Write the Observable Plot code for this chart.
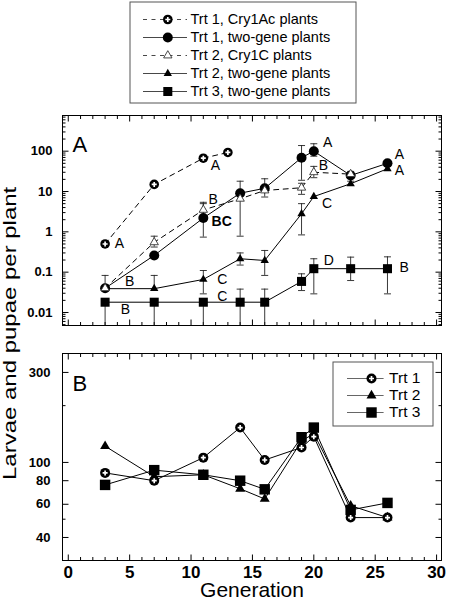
<!DOCTYPE html>
<html><head><meta charset="utf-8">
<script src="https://cdn.jsdelivr.net/npm/d3@7"></script>
<script src="https://cdn.jsdelivr.net/npm/@observablehq/plot@0.6"></script>
<style>
html,body{margin:0;padding:0;background:#fff;}
#root{position:relative;width:450px;height:601px;overflow:hidden;font-family:"Liberation Sans",Arial,Helvetica,sans-serif;}
.layer{position:absolute;}
.layer svg{display:block;max-width:none!important;background:transparent!important;}
#ytitle{position:absolute;white-space:nowrap;font-size:18px;color:#000;line-height:1.15;}
</style></head>
<body><div id="root"></div>
<script>
// ---------- Panel A data ----------
const gensCry1Ac = [3, 7, 11, 13];
const trt1Cry1Ac = [0.5, 15, 67, 93];

const gensTwoGene = [3, 7, 11, 14, 16, 19, 20, 23, 26];
const trt1TwoGene   = [0.04, 0.26, 2.2, 9.1, 12, 69, 100, 25, 50];
const trt1TwoGeneLo = [null, null, 0.74, 0.78, 7.3, 19, 75, 18, null];
const trt1TwoGeneHi = [null, null, 5.4, 18, 20.7, 138, 153, 31.5, null];

const gensCry1C = [3, 7, 11, 14, 16, 19, 20, 23];
const trt2Cry1C   = [0.04, 0.55, 3.5, 6.6, 10.6, 12.4, 30, 27];
const trt2Cry1CLo = [null, 0.42, 2.4, null, null, 8.5, 22, null];
const trt2Cry1CHi = [null, 0.78, 5, null, null, 16, 42, null];

const trt2TwoGene   = [0.039, 0.039, 0.066, 0.215, 0.195, 2.8, 7.5, 15.6, 36.7];
const trt2TwoGeneLo = [null, null, 0.029, 0.15, 0.083, 0.84, null, null, null];
const trt2TwoGeneHi = [0.083, 0.083, 0.11, 0.3, 0.345, 5, null, null, null];

const trt3TwoGene   = [0.018, 0.018, 0.018, 0.018, 0.018, 0.059, 0.122, 0.122, 0.122];
const trt3TwoGeneLo = [0.001, 0.001, 0.001, 0.001, 0.001, 0.035, 0.029, 0.062, 0.029];
const trt3TwoGeneHi = [null, null, null, 0.038, 0.038, 0.091, 0.215, 0.236, 0.24];

// letters of significance (panel A), in data units
const lettersA = [
  {gen: 3.78, value: 0.5, text: "A"},
  {gen: 11.6, value: 44, text: "A"},
  {gen: 11.42, value: 6.4, text: "B"},
  {gen: 4.62, value: 0.059, text: "B"},
  {gen: 12.13, value: 0.064, text: "C"},
  {gen: 12.13, value: 0.0255, text: "C"},
  {gen: 4.27, value: 0.012, text: "B"},
  {gen: 20.75, value: 168, text: "A"},
  {gen: 20.4, value: 43, text: "B"},
  {gen: 20.67, value: 4.9, text: "C"},
  {gen: 20.8, value: 0.19, text: "D"},
  {gen: 26.6, value: 85, text: "A"},
  {gen: 26.6, value: 33, text: "A"},
  {gen: 26.98, value: 0.13, text: "B"}
];
const lettersABold = [{gen: 11.67, value: 1.77, text: "BC"}];

// ---------- Panel B data ----------
const gensB = [3, 7, 11, 14, 16, 19, 20, 23, 26];
const trt1B = [88, 80, 106, 153, 103, 120, 137, 51, 51];
const trt2B = [122, 84, 86, 72.5, 64, 130, 142, 59, 51];
const trt3B = [76, 91, 86, 80, 72, 136, 153, 56, 61];

// ---------- tick labels ----------
const xTicks = [0, 5, 10, 15, 20, 25, 30];
const yTicksA = [0.01, 0.1, 1, 10, 100];
const yTicksB = [40, 60, 80, 100, 300];
const yMinorB = [50, 200];

const panelLabels = ["A", "B"];
const xTitle = "Generation";
const yTitle = "Larvae and pupae per plant";

// ---------- helpers ----------
const FONT = '"Liberation Sans", Arial, Helvetica, sans-serif';
const root = document.getElementById("root");
function place(node, left, top, id) {
  const d = document.createElement("div");
  d.className = "layer";
  d.style.left = left + "px"; d.style.top = top + "px";
  if (id) d.id = id;
  d.appendChild(node); root.appendChild(d); return d;
}
const tickSym = (dx, dy) => ({draw(ctx) { ctx.moveTo(0, 0); ctx.lineTo(dx, dy); }});
const capSym = w => ({draw(ctx) { ctx.moveTo(-w, 0); ctx.lineTo(w, 0); }});

function rowsOf(gens, vals, lo, hi) {
  return gens.map((g, i) => ({gen: g, value: vals[i], lo: lo ? lo[i] : null, hi: hi ? hi[i] : null}));
}

function markerMarks(rows, marker, xc, yc, big) {
  const base = {x: xc, y: yc};
  switch (marker) {
    case "plusCircle": return [
      Plot.dot(rows, {...base, r: big ? 5 : 4.8, fill: "black", stroke: "none"}),
      Plot.dot(rows, {...base, symbol: "cross", r: 2.1, fill: "white", stroke: "none"})
    ];
    case "circle": return [Plot.dot(rows, {...base, r: 5, fill: "black", stroke: "none"})];
    case "openTriangle": return [Plot.dot(rows, {...base, symbol: "triangle", r: 3.1, fill: "white", stroke: "#333", strokeWidth: 0.9})];
    case "triangle": return [Plot.dot(rows, {...base, symbol: "triangle", r: big ? 3.7 : 3.1, fill: "black", stroke: "none"})];
    case "square": return [Plot.dot(rows, {...base, symbol: "square", r: big ? 5.9 : 5.1, fill: "black", stroke: "none"})];
  }
  return [];
}

function xTickMarks(withTop) {
  const major = d3.range(0, 31, 5), minor = d3.range(0, 31).filter(d => d % 5);
  const o = {stroke: "black", fill: "none", strokeWidth: 1};
  const ms = [
    Plot.dot(major, {...o, x: d => d, frameAnchor: "bottom", symbol: tickSym(0, -6)}),
    Plot.dot(minor, {...o, x: d => d, frameAnchor: "bottom", symbol: tickSym(0, -3.5)})
  ];
  if (withTop) ms.push(
    Plot.dot(major, {...o, x: d => d, frameAnchor: "top", symbol: tickSym(0, 6)}),
    Plot.dot(minor, {...o, x: d => d, frameAnchor: "top", symbol: tickSym(0, 3.5)})
  );
  return ms;
}
function yTickMarks(major, minor) {
  const o = {stroke: "black", fill: "none", strokeWidth: 1};
  return [
    Plot.dot(major, {...o, y: d => d, frameAnchor: "left", symbol: tickSym(6, 0)}),
    Plot.dot(minor, {...o, y: d => d, frameAnchor: "left", symbol: tickSym(3, 0)}),
    Plot.dot(major, {...o, y: d => d, frameAnchor: "right", symbol: tickSym(-6, 0)}),
    Plot.dot(minor, {...o, y: d => d, frameAnchor: "right", symbol: tickSym(-3, 0)})
  ];
}
function yLabelMarks(ticks, gap) {
  return [Plot.text(ticks, {y: d => d, frameAnchor: "left", dx: -gap, text: d => String(d), textAnchor: "end", fontSize: 13, fontWeight: "bold", fill: "black"})];
}

const xDomain = [-0.47, 30.4];
const yDomainA = [0.00476, 767];
const yDomainB = [30.2, 378];

// ---------- series (panel A) ----------
const seriesA = [
  {label: "Trt 1, Cry1Ac plants", rows: rowsOf(gensCry1Ac, trt1Cry1Ac), dashed: true, marker: "plusCircle"},
  {label: "Trt 1, two-gene plants", rows: rowsOf(gensTwoGene, trt1TwoGene, trt1TwoGeneLo, trt1TwoGeneHi), dashed: false, marker: "circle"},
  {label: "Trt 2, Cry1C plants", rows: rowsOf(gensCry1C, trt2Cry1C, trt2Cry1CLo, trt2Cry1CHi), dashed: true, marker: "openTriangle"},
  {label: "Trt 2, two-gene plants", rows: rowsOf(gensTwoGene, trt2TwoGene, trt2TwoGeneLo, trt2TwoGeneHi), dashed: false, marker: "triangle"},
  {label: "Trt 3, two-gene plants", rows: rowsOf(gensTwoGene, trt3TwoGene, trt3TwoGeneLo, trt3TwoGeneHi), dashed: false, marker: "square"}
];
const drawOrderA = [4, 3, 1, 2, 0];

function errorMarks(rows) {
  const er = rows.filter(d => d.lo != null || d.hi != null).map(d => ({gen: d.gen, y1: d.lo ?? d.value, y2: d.hi ?? d.value}));
  const capsLo = rows.filter(d => d.lo != null && d.lo >= yDomainA[0]).map(d => ({gen: d.gen, v: d.lo}));
  const capsHi = rows.filter(d => d.hi != null).map(d => ({gen: d.gen, v: d.hi}));
  return [
    Plot.ruleX(er, {x: "gen", y1: "y1", y2: "y2", stroke: "#222", strokeWidth: 0.9, clip: true}),
    Plot.dot(capsLo.concat(capsHi), {x: "gen", y: "v", symbol: capSym(3.5), stroke: "#222", fill: "none", strokeWidth: 0.9})
  ];
}

const styleBase = {fontFamily: FONT, fontSize: "13px", color: "black", background: "transparent", overflow: "visible"};

// ---------- top legend ----------
const legendTop = Plot.plot({
  width: 227, height: 102, margin: 0,
  style: {...styleBase, fontSize: "14.5px"},
  x: {domain: [0, 227], range: [0, 227], axis: null},
  y: {type: "point", domain: seriesA.map(s => s.label), range: [17.2, 90.3], padding: 0, axis: null},
  marks: [
    Plot.frame({stroke: "#555", fill: "white", inset: 0.5}),
    ...seriesA.flatMap(s => [
      Plot.ruleY([s.label], {x1: () => 14, x2: () => 58, stroke: "#333", strokeWidth: 0.9, strokeDasharray: s.dashed ? "4,4.5" : null}),
      ...markerMarks([s.label], s.marker, () => 38.3, d => d, false),
      Plot.text([s.label], {x: () => 61, y: d => d, text: d => d, textAnchor: "start", fontSize: 14.5, fill: "black"})
    ])
  ]
});
place(legendTop, 129, 1);

// ---------- panel A ----------
const minorA = [];
for (let k = -3; k <= 2; k++) for (let m = 2; m <= 9; m++) {
  const v = +(m + "e" + k);
  if (v > yDomainA[0] && v < yDomainA[1]) minorA.push(v);
}
const panelA = Plot.plot({
  width: 450, height: 231,
  marginTop: 11, marginBottom: 10, marginLeft: 62, marginRight: 9,
  style: styleBase,
  x: {domain: xDomain, axis: null},
  y: {type: "log", domain: yDomainA, axis: null},
  marks: [
    Plot.frame({stroke: "black", strokeWidth: 1}),
    ...xTickMarks(true),
    ...yTickMarks(yTicksA, minorA),
    ...yLabelMarks(yTicksA, 10),
    ...drawOrderA.flatMap(i => errorMarks(seriesA[i].rows)),
    ...drawOrderA.map(i => Plot.line(seriesA[i].rows, {x: "gen", y: "value", stroke: "black", strokeWidth: 1, strokeDasharray: seriesA[i].dashed ? "5,4.5" : null, clip: true})),
    ...drawOrderA.flatMap(i => markerMarks(seriesA[i].rows, seriesA[i].marker, "gen", "value", false)),
    Plot.text(lettersA, {x: "gen", y: "value", text: "text", textAnchor: "start", fontSize: 14, fill: "black"}),
    Plot.text(lettersABold, {x: "gen", y: "value", text: "text", textAnchor: "start", fontSize: 14, fontWeight: "bold", fill: "black"}),
    Plot.text([panelLabels[0]], {frameAnchor: "top-left", dx: 10, dy: 21, text: d => d, textAnchor: "start", fontSize: 22, fill: "black"})
  ]
});
place(panelA, 0, 104, "panelA");

// ---------- panel B ----------
const seriesB = [
  {label: "Trt 1", rows: rowsOf(gensB, trt1B), marker: "plusCircle"},
  {label: "Trt 2", rows: rowsOf(gensB, trt2B), marker: "triangle"},
  {label: "Trt 3", rows: rowsOf(gensB, trt3B), marker: "square"}
];
const drawOrderB = [2, 1, 0];
const panelB = Plot.plot({
  width: 450, height: 266,
  marginTop: 18, marginBottom: 41, marginLeft: 62, marginRight: 9,
  style: styleBase,
  x: {domain: xDomain, axis: null},
  y: {type: "log", domain: yDomainB, axis: null},
  marks: [
    Plot.frame({stroke: "black", strokeWidth: 1}),
    ...xTickMarks(true),
    ...yTickMarks(yTicksB, yMinorB),
    ...yLabelMarks(yTicksB, 12),
    Plot.text(xTicks, {x: d => d, frameAnchor: "bottom", dy: 5, lineAnchor: "top", text: d => String(d), fontSize: 17, fontWeight: "bold", fill: "black"}),
    ...drawOrderB.map(i => Plot.line(seriesB[i].rows, {x: "gen", y: "value", stroke: "black", strokeWidth: 1})),
    ...drawOrderB.flatMap(i => markerMarks(seriesB[i].rows, seriesB[i].marker, "gen", "value", true)),
    Plot.text([panelLabels[1]], {frameAnchor: "top-left", dx: 10, dy: 22, text: d => d, textAnchor: "start", fontSize: 22, fill: "black"}),
    Plot.text([xTitle], {frameAnchor: "bottom", dy: 36.5, text: d => d, lineAnchor: "bottom", fontSize: 21, fill: "black"})
  ]
});
place(panelB, 0, 335, "panelB");

// ---------- panel B legend ----------
const legendB = Plot.plot({
  width: 101, height: 65, margin: 0,
  style: {...styleBase, fontSize: "15.5px"},
  x: {domain: [0, 101], range: [0, 101], axis: null},
  y: {type: "point", domain: seriesB.map(s => s.label), range: [16.8, 51.8], padding: 0, axis: null},
  marks: [
    Plot.frame({stroke: "#555", fill: "white", inset: 0.5}),
    ...seriesB.flatMap(s => [
      Plot.ruleY([s.label], {x1: () => 15, x2: () => 51.6, stroke: "#555", strokeWidth: 0.9}),
      ...markerMarks([s.label], s.marker, () => 39, d => d, true),
      Plot.text([s.label], {x: () => 56.6, y: d => d, text: d => d, textAnchor: "start", fontSize: 15.5, fill: "black"})
    ])
  ]
});
place(legendB, 332, 361);

// ---------- y title spanning both panels ----------
const yt = document.createElement("div");
yt.id = "ytitle";
yt.textContent = yTitle;
root.appendChild(yt);
const w = yt.offsetWidth, h = yt.offsetHeight;
const k = 293 / w;
yt.style.left = (9.6 - w / 2) + "px";
yt.style.top = (333 - h / 2) + "px";
yt.style.transform = `rotate(-90deg) scaleX(${k})`;
</script>
</body></html>
